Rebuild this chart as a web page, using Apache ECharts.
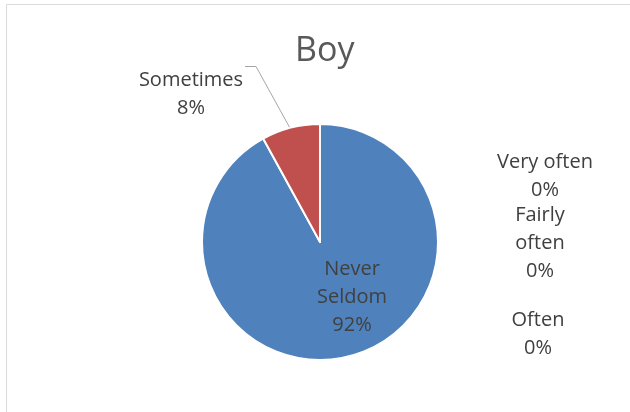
<!DOCTYPE html>
<html>
<head>
<meta charset="utf-8">
<script src="https://cdn.jsdelivr.net/npm/echarts@6/dist/echarts.min.js"></script>
<style>
  html, body { margin: 0; padding: 0; background: #fff; }
  #main { width: 630px; height: 412px; }
</style>
</head>
<body>
<div id="main"></div>
<script>
var categories = ['Never Seldom', 'Sometimes', 'Very often', 'Fairly often', 'Often'];
var values = [92, 8, 0, 0, 0];
var labelText = ['Never\nSeldom\n92%', 'Sometimes\n8%', 'Very often\n0%', 'Fairly\noften\n0%', 'Often\n0%'];
var colors = ['#4F81BD', '#C0504D', '#9BBB59', '#8064A2', '#4BACC6'];

// where Excel put each label
var labelSpots = [[352, 297], [191, 94], [545, 176], [540, 243], [538, 334]];

var cx = 320, cy = 242, R = 118;

// leader line for "Sometimes": from the middle of its slice up to the label corner
var total = values.reduce(function (a, b) { return a + b; }, 0);
var before = values[0];
var midDeg = (before + values[1] / 2) / total * 360;
var rad = midDeg * Math.PI / 180;
var lineStart = [cx + (R - 3) * Math.sin(rad), cy - (R - 3) * Math.cos(rad)];

var chart = echarts.init(document.getElementById('main'), null, { renderer: 'canvas' });

chart.setOption({
  animation: false,
  color: colors,
  title: {
    text: 'Boy',
    left: 290,
    top: 29,
    textStyle: { fontFamily: 'Open Sans', fontSize: 34, fontWeight: 'normal', color: '#595959' }
  },
  graphic: [{
    type: 'rect',
    shape: { x: 6.5, y: 4.5, width: 700, height: 500 },
    style: { fill: 'none', stroke: '#d9d9d9', lineWidth: 1 },
    silent: true
  }, {
    type: 'polyline',
    shape: { points: [lineStart, [256, 66.5], [245, 66.5]] },
    style: { fill: 'none', stroke: '#a6a6a6', lineWidth: 1 },
    silent: true
  }],
  series: [{
    type: 'pie',
    center: [cx, cy],
    radius: R,
    startAngle: 90,
    clockwise: true,
    itemStyle: { borderColor: '#fff', borderWidth: 2 },
    label: {
      show: true,
      position: 'outside',
      fontFamily: 'Open Sans',
      fontSize: 20,
      lineHeight: 28,
      color: '#404040',
      align: 'center',
      formatter: function (p) { return labelText[p.dataIndex]; }
    },
    labelLine: { show: false },
    labelLayout: function (p) {
      var s = labelSpots[p.dataIndex];
      return { x: s[0], y: s[1], align: 'center', verticalAlign: 'middle' };
    },
    data: categories.map(function (c, i) {
      return { name: c, value: values[i] };
    })
  }]
});
</script>
</body>
</html>
